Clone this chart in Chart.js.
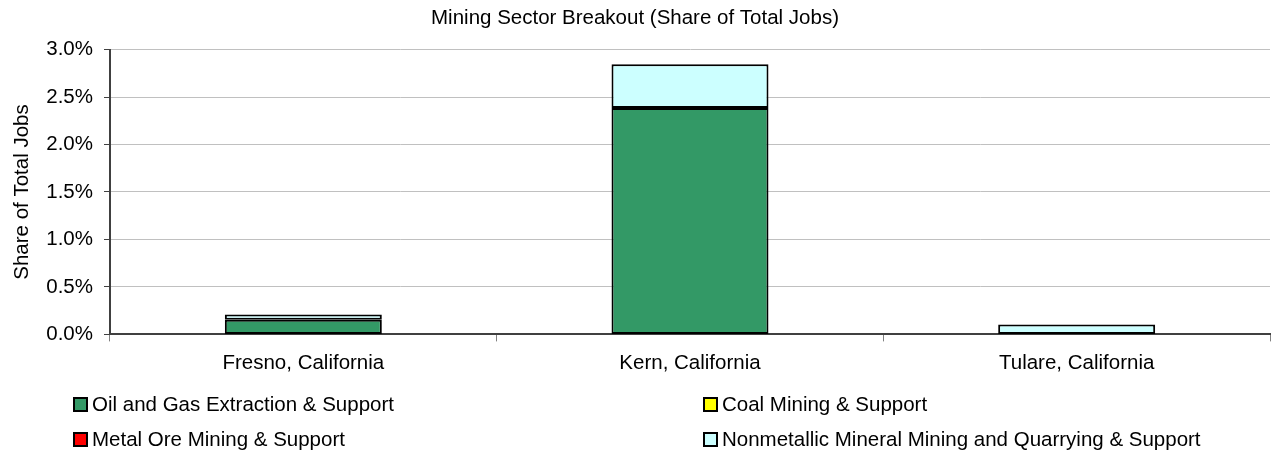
<!DOCTYPE html>
<html><head><meta charset="utf-8">
<script src="https://cdn.jsdelivr.net/npm/chart.js@4.4.1/dist/chart.umd.min.js"></script>
<style>
html,body{margin:0;padding:0;background:#fff;}
#wrap{position:relative;width:1278px;height:455px;font-family:"Liberation Sans",Arial,sans-serif;}
#legend{position:absolute;left:73px;top:392px;width:1200px;display:grid;grid-template-columns:630px 570px;row-gap:11px;font-size:20.5px;color:#000;}
.li{display:flex;align-items:center;height:24px;white-space:nowrap;}
.sw{width:11px;height:11px;border:2px solid #000;margin-right:4px;box-sizing:content-box;flex:none;}
</style></head>
<body><div id="wrap"><canvas id="c" width="1278" height="455"></canvas><div id="legend"></div></div>
<script>
const categories = ["Fresno, California", "Kern, California", "Tulare, California"];
const seriesNames = ["Oil and Gas Extraction & Support", "Coal Mining & Support", "Metal Ore Mining & Support", "Nonmetallic Mineral Mining and Quarrying & Support"];
const oilGas = [0.155, 2.385, 0.0];
const coal = [0.0, 0.0, 0.0];
const metalOre = [0.0, 0.0, 0.0];
const nonmetallic = [0.055, 0.46, 0.105];
const yTicks = [0, 0.5, 1.0, 1.5, 2.0, 2.5, 3.0];
const colors = ["#339966", "#FFFF00", "#FF0000", "#CCFFFF"];
const values = [oilGas, coal, metalOre, nonmetallic];

const datasets = seriesNames.map((n, i) => ({
  label: n, data: values[i], backgroundColor: colors[i], borderColor: "#000",
  borderWidth: (ctx) => (ctx.raw ? 2 : 0), borderSkipped: false, barPercentage: 0.406, categoryPercentage: 1.0
}));

Chart.defaults.font.family = '"Liberation Sans", Arial, sans-serif';
Chart.defaults.color = "#000";
const FS = 20.5;

new Chart(document.getElementById("c"), {
  type: "bar",
  data: { labels: categories, datasets },
  options: {
    responsive: false, animation: false,
    layout: { padding: { left: 0, right: 8, top: 0, bottom: 69 } },
    plugins: {
      legend: { display: false }, tooltip: { enabled: false },
      title: { display: true, text: "Mining Sector Breakout (Share of Total Jobs)", font: { size: FS, weight: "normal", lineHeight: 1.2 }, padding: { top: 6, bottom: 19 }, color: "#000" }
    },
    scales: {
      x: {
        stacked: true,
        grid: { offset: true, drawOnChartArea: false, drawTicks: true, tickLength: 7, color: "#808080", lineWidth: 1 },
        border: { color: "#404040", width: 2 },
        ticks: { font: { size: FS }, padding: 10, color: "#000" }
      },
      y: {
        stacked: true, min: 0, max: 3.0,
        afterBuildTicks: (s) => { s.ticks = yTicks.map(v => ({ value: v })); },
        afterFit: (s) => { s.width = 110; },
        grid: { color: "#c0c0c0", lineWidth: 1, drawTicks: true, tickLength: 6, tickColor: "#404040" },
        border: { color: "#404040", width: 2 },
        ticks: { font: { size: FS }, padding: 11, color: "#000", callback: (v) => v.toFixed(1) + "%" },
        title: { display: true, text: "Share of Total Jobs", font: { size: FS }, padding: { top: 10, bottom: 0 }, color: "#000" }
      }
    }
  }
});

const lg = document.getElementById("legend");
seriesNames.forEach((n, i) => {
  const d = document.createElement("div"); d.className = "li";
  d.innerHTML = '<span class="sw" style="background:' + colors[i] + '"></span><span>' + n + '</span>';
  lg.appendChild(d);
});
</script></body></html>
